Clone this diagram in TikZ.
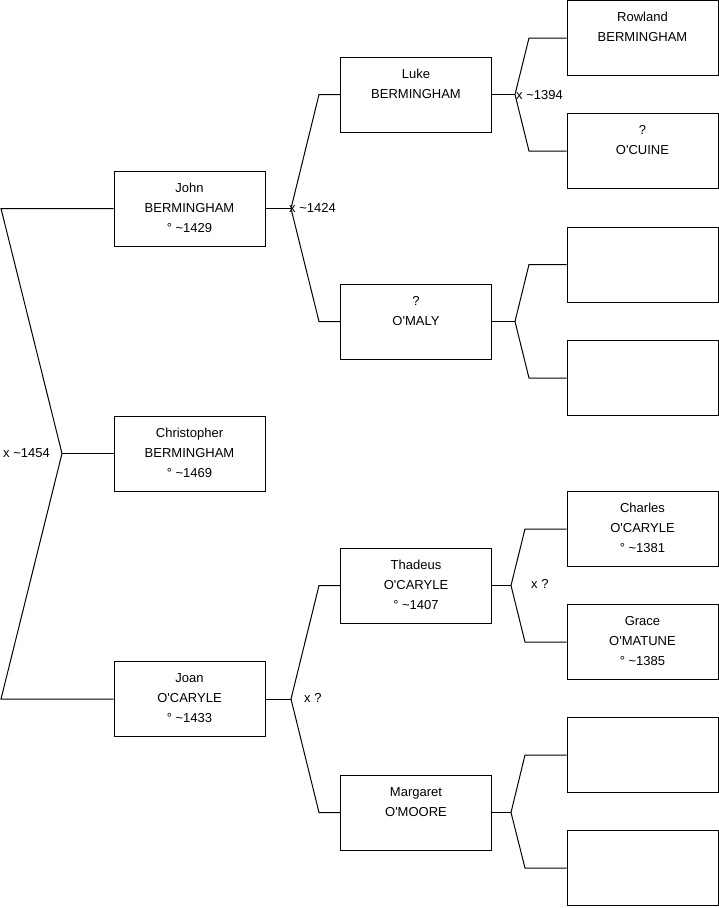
\documentclass[tikz,border=0pt]{standalone}
\usepackage{fontspec}
\newfontfamily\lsans{Liberation Sans}
\newcommand\ptxt[1]{\parbox[c][75pt][t]{151pt}{\centering\lsans\fontsize{13pt}{20pt}\selectfont\vspace*{7pt}#1}}
\newcommand\tl{\textasciitilde}
\tikzset{
  pbox/.style={draw, rectangle, inner sep=0pt, line width=1pt, minimum width=151pt, minimum height=75pt},
  lbl/.style={inner sep=0pt, anchor=west, font=\lsans\fontsize{13pt}{16pt}\selectfont},
  conn/.style={line width=1pt}
}
\begin{document}
\begin{tikzpicture}[x=1pt,y=-1pt]
\useasboundingbox (0,0) rectangle (719,908);
% generation 1-2
\node[pbox] (john)  at (189.5,208.5) {\ptxt{\strut John\\\strut BERMINGHAM\\\strut ° \tl1429}};
\node[pbox] (chris) at (189.5,453.5) {\ptxt{\strut Christopher\\\strut BERMINGHAM\\\strut ° \tl1469}};
\node[pbox] (joan)  at (189.5,699)   {\ptxt{\strut Joan\\\strut O'CARYLE\\\strut ° \tl1433}};
% generation 3
\node[pbox] (luke)  at (416,94.5)  {\ptxt{\strut Luke\\\strut BERMINGHAM}};
\node[pbox] (omaly) at (416,321.5) {\ptxt{\strut ?\\\strut O'MALY}};
\node[pbox] (thad)  at (416,585.5) {\ptxt{\strut Thadeus\\\strut O'CARYLE\\\strut ° \tl1407}};
\node[pbox] (marg)  at (416,812.5) {\ptxt{\strut Margaret\\\strut O'MOORE}};
% generation 4
\node[pbox] (row)   at (642.5,38)    {\ptxt{\strut Rowland\\\strut BERMINGHAM}};
\node[pbox] (cuine) at (642.5,151)   {\ptxt{\strut ?\\\strut O'CUINE}};
\node[pbox] (e1)    at (642.5,264.5) {};
\node[pbox] (e2)    at (642.5,378)   {};
\node[pbox] (charl) at (642.5,529)   {\ptxt{\strut Charles\\\strut O'CARYLE\\\strut ° \tl1381}};
\node[pbox] (grace) at (642.5,642)   {\ptxt{\strut Grace\\\strut O'MATUNE\\\strut ° \tl1385}};
\node[pbox] (e3)    at (642.5,755)   {};
\node[pbox] (e4)    at (642.5,868)   {};
% fork coordinates
\coordinate (v1) at (62,453.5); \coordinate (t1) at (1,208.5); \coordinate (b1) at (1,699);
\coordinate (v2) at (291,208.5); \coordinate (t2) at (319,94.5); \coordinate (b2) at (319,321.5);
\coordinate (v3) at (515,94.5); \coordinate (t3) at (529,38); \coordinate (b3) at (529,151);
\coordinate (v4) at (515,321.5); \coordinate (t4) at (529,264.5); \coordinate (b4) at (529,378);
\coordinate (v5) at (291,699); \coordinate (t5) at (319,585.5); \coordinate (b5) at (319,812.5);
\coordinate (v6) at (511,585.5); \coordinate (t6) at (525,529); \coordinate (b6) at (525,642);
\coordinate (v7) at (511,812.5); \coordinate (t7) at (525,755); \coordinate (b7) at (525,868);
% connectors
\draw[conn] (john.west) -- (t1) -- (v1) -- (b1) -- (joan.west); \draw[conn] (v1) -- (chris.west);
\draw[conn] (luke.west) -- (t2) -- (v2) -- (b2) -- (omaly.west); \draw[conn] (v2) -- (john.east);
\draw[conn] (row.west) -- (t3) -- (v3) -- (b3) -- (cuine.west); \draw[conn] (v3) -- (luke.east);
\draw[conn] (e1.west) -- (t4) -- (v4) -- (b4) -- (e2.west); \draw[conn] (v4) -- (omaly.east);
\draw[conn] (thad.west) -- (t5) -- (v5) -- (b5) -- (marg.west); \draw[conn] (v5) -- (joan.east);
\draw[conn] (charl.west) -- (t6) -- (v6) -- (b6) -- (grace.west); \draw[conn] (v6) -- (thad.east);
\draw[conn] (e3.west) -- (t7) -- (v7) -- (b7) -- (e4.west); \draw[conn] (v7) -- (marg.east);
% marriage labels
\node[lbl] (m1) at (3,453.5) {x \tl1454};
\node[lbl] (m2) at (289,208) {x \tl1424};
\node[lbl] (m3) at (516,95) {x \tl1394};
\node[lbl] (m4) at (304,698) {x ?};
\node[lbl] (m5) at (531,584) {x ?};
\end{tikzpicture}
\end{document}
